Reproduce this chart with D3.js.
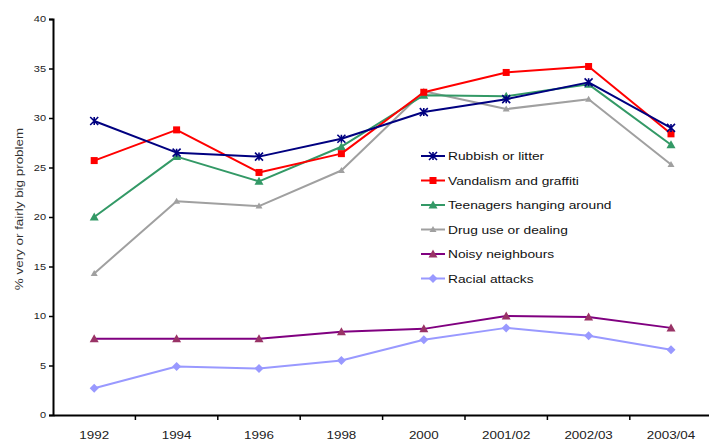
<!DOCTYPE html>
<html>
<head>
<meta charset="utf-8">
<script src="https://cdn.jsdelivr.net/npm/d3@7"></script>
<style>
  html, body { margin: 0; padding: 0; background: #fff; }
  svg { display: block; font-family: "Liberation Sans", Arial, sans-serif; }
</style>
</head>
<body>
<svg id="chart" width="709" height="441"></svg>
<script>
// Survey years
const years = ["1992", "1994", "1996", "1998", "2000", "2001/02", "2002/03", "2003/04"];

// Percentage saying each issue is a very or fairly big problem
const rubbish    = [29.7, 26.5, 26.1, 27.9, 30.6, 31.9, 33.6, 29.0];
const vandalism  = [25.7, 28.8, 24.5, 26.4, 32.6, 34.6, 35.2, 28.4];
const teenagers  = [20.0, 26.1, 23.6, 27.1, 32.3, 32.2, 33.4, 27.3];
const drugs      = [14.3, 21.6, 21.1, 24.7, 32.7, 30.9, 31.9, 25.3];
const noisy      = [7.7, 7.7, 7.7, 8.4, 8.7, 10.0, 9.9, 8.8];
const racial     = [2.7, 4.9, 4.7, 5.5, 7.6, 8.8, 8.0, 6.6];

const seriesNames = ["Rubbish or litter", "Vandalism and graffiti", "Teenagers hanging around",
                     "Drug use or dealing", "Noisy neighbours", "Racial attacks"];
const yTicks = [0, 5, 10, 15, 20, 25, 30, 35, 40];
const yTitle = "% very or fairly big problem";

const styles = [
  { line: "#000080", fill: "#000080", marker: "star" },
  { line: "#FF0000", fill: "#FF0000", marker: "square" },
  { line: "#339966", fill: "#339966", marker: "triangle" },
  { line: "#A0A0A0", fill: "#A0A0A0", marker: "smalltri" },
  { line: "#800080", fill: "#993366", marker: "triangle" },
  { line: "#9999FF", fill: "#9999FF", marker: "diamond" }
];
const seriesValues = [rubbish, vandalism, teenagers, drugs, noisy, racial];

// Text is set in a slightly widened face
const widen = 1.22;

const svg = d3.select("#chart");
const plotLeft = 53, plotBottom = 415, plotTop = 19, band = 82.4;

const x = d3.scaleBand().domain(years).range([plotLeft, plotLeft + band * years.length]);
const y = d3.scaleLinear().domain([0, 40]).range([plotBottom, plotTop]);
const cx = d => x(d) + x.bandwidth() / 2;

// Y axis
const yAxis = svg.append("g")
  .attr("transform", `translate(${plotLeft},0)`)
  .call(d3.axisLeft(y).tickValues(yTicks).tickSize(4).tickPadding(3).tickFormat(d3.format("d")));
yAxis.select(".domain").attr("stroke", "#000").attr("stroke-width", 2);
yAxis.selectAll(".tick line").attr("stroke", "#000").attr("stroke-width", 1.5);
yAxis.selectAll(".tick text")
  .attr("x", 0)
  .attr("transform", `translate(-7,0) scale(${widen},1)`)
  .attr("font-size", 9).attr("fill", "#222")
  .attr("font-family", "'Liberation Sans', Arial, sans-serif");

// X axis: ticks fall between categories
const xAxis = svg.append("g")
  .attr("transform", `translate(0,${plotBottom})`)
  .call(d3.axisBottom(x).tickSize(0).tickPadding(16));
xAxis.select(".domain").attr("stroke", "#000").attr("stroke-width", 2);
xAxis.selectAll(".tick text")
  .attr("transform", `scale(${widen},1)`)
  .attr("font-size", 11).attr("fill", "#222")
  .attr("font-family", "'Liberation Sans', Arial, sans-serif");
xAxis.selectAll(".sep")
  .data(years.slice(1))
  .enter().append("line")
  .attr("class", "sep")
  .attr("x1", d => x(d)).attr("x2", d => x(d))
  .attr("y1", 0).attr("y2", 5)
  .attr("stroke", "#000").attr("stroke-width", 1.5);

// Y axis title
svg.append("text")
  .attr("transform", `translate(23,209) rotate(-90) scale(${widen},1)`)
  .attr("text-anchor", "middle")
  .attr("font-size", 11)
  .attr("fill", "#333")
  .text(yTitle);

function drawMarker(g, kind, fill, px, py) {
  if (kind === "star") {
    const s = 4;
    g.append("path")
      .attr("d", `M${px - s},${py - s}L${px + s},${py + s}M${px - s},${py + s}L${px + s},${py - s}M${px},${py - s}L${px},${py + s}`)
      .attr("stroke", fill).attr("stroke-width", 1.6).attr("fill", "none");
  } else if (kind === "square") {
    g.append("rect").attr("x", px - 3.5).attr("y", py - 3.5).attr("width", 7).attr("height", 7).attr("fill", fill);
  } else if (kind === "triangle") {
    g.append("path").attr("d", `M${px},${py - 4.5}L${px + 4.5},${py + 3.5}L${px - 4.5},${py + 3.5}Z`).attr("fill", fill);
  } else if (kind === "smalltri") {
    g.append("path").attr("d", `M${px},${py - 3.5}L${px + 3.5},${py + 2.5}L${px - 3.5},${py + 2.5}Z`).attr("fill", fill);
  } else if (kind === "diamond") {
    g.append("path").attr("d", `M${px},${py - 4.5}L${px + 4.5},${py}L${px},${py + 4.5}L${px - 4.5},${py}Z`).attr("fill", fill);
  }
}

const line = d3.line().x((d, i) => cx(years[i])).y(d => y(d));

// Series lines, drawn bottom-up so the top-listed series sit on top
for (let s = seriesValues.length - 1; s >= 0; s--) {
  const vals = seriesValues[s];
  const st = styles[s];
  const g = svg.append("g");
  g.append("path").datum(vals)
    .attr("d", line)
    .attr("fill", "none")
    .attr("stroke", st.line)
    .attr("stroke-width", 2)
    .attr("stroke-linejoin", "round");
  vals.forEach((v, i) => drawMarker(g, st.marker, st.fill, cx(years[i]), y(v)));
}

// Legend
const legend = svg.append("g");
const legX = 421, legY = 156, legStep = 24.5;
seriesNames.forEach((name, i) => {
  const ly = legY + i * legStep;
  const st = styles[i];
  legend.append("line").attr("x1", legX).attr("x2", legX + 24).attr("y1", ly).attr("y2", ly)
    .attr("stroke", st.line).attr("stroke-width", 2);
  drawMarker(legend, st.marker, st.fill, legX + 12, ly);
  legend.append("text")
    .attr("transform", `translate(${legX + 27},${ly + 4}) scale(1.25,1)`)
    .attr("font-size", 11).attr("fill", "#111")
    .text(name);
});
</script>
</body>
</html>
